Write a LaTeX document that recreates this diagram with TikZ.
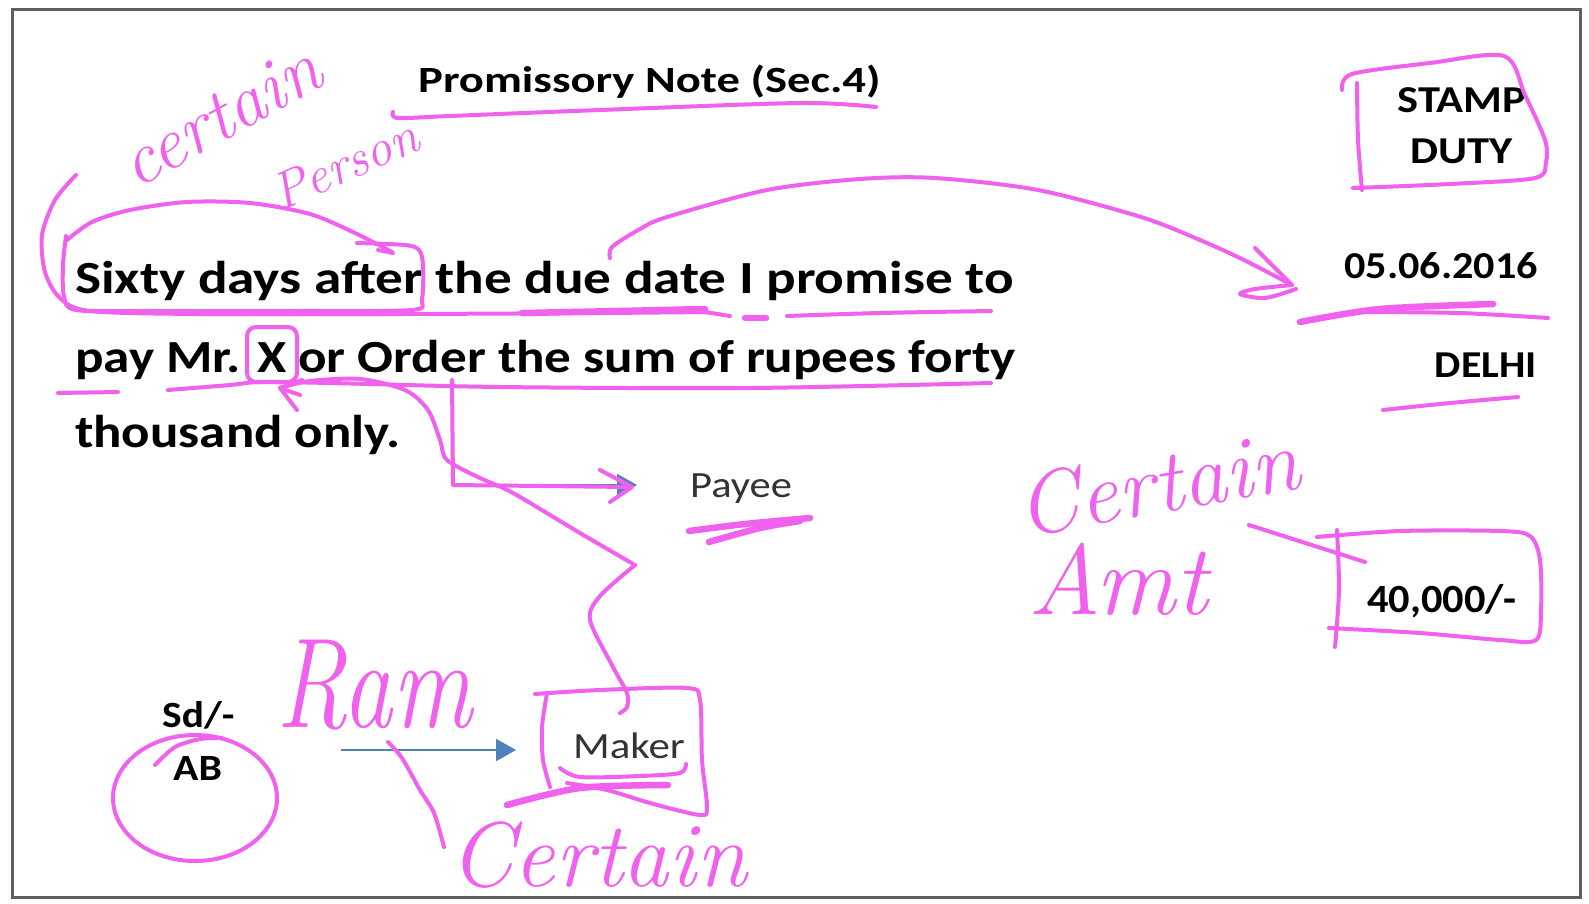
\documentclass[tikz,border=0pt]{standalone}
\usepackage{fontspec}
\setmainfont{Carlito}
\newfontfamily\handfont{Latin Modern Roman}
\usetikzlibrary{arrows.meta}
\definecolor{ink}{RGB}{240,98,238}
\definecolor{flow}{RGB}{79,129,189}
\definecolor{framegray}{RGB}{95,95,95}
% widen a piece of text without changing its height
\newcommand{\hwide}[2]{\scalebox{#1}[1]{#2}}
\begin{document}
\begin{tikzpicture}[x=1pt,y=-1pt,
  doctext/.style={inner sep=0pt, font=\bfseries\fontsize{#1}{#1}\selectfont},
  labeltext/.style={inner sep=0pt, text=black!80, font=\fontsize{#1}{#1}\selectfont},
  handtext/.style={inner sep=0pt, text=ink, font=\handfont\itshape\fontsize{#1}{#1}\selectfont},
  pen/.style={draw=ink, line width=4pt, line cap=round, line join=round},
  heavypen/.style={pen, line width=6.5pt},
  flowarrow/.style={draw=flow, line width=2.2pt, -{Triangle[length=20pt,width=22pt]}}]

\useasboundingbox (0,0) rectangle (1589,903);
\fill[white] (0,0) rectangle (1589,903);
\draw[draw=framegray, line width=3pt] (12,9) rectangle (1580,897);

% typed note
\node[doctext=37, anchor=base west] (title) at (418,92) {\hwide{1.26}{Promissory Note (Sec.4)}};
\node[doctext=46, anchor=base west] (l1) at (75,293) {\hwide{1.2}{Sixty days after the due date I promise to}};
\node[doctext=46, anchor=base west] (l2) at (75,372) {\hwide{1.155}{pay Mr. X or Order the sum of rupees forty}};
\node[doctext=46, anchor=base west] (l3) at (75,447) {\hwide{1.15}{thousand only.}};
\node[doctext=38, anchor=base] (stamp) at (1462,112) {\hwide{1.17}{STAMP}};
\node[doctext=38, anchor=base] (duty) at (1462,163) {\hwide{1.17}{DUTY}};
\node[doctext=38, anchor=base east] (date) at (1538,278) {\hwide{1.11}{05.06.2016}};
\node[doctext=38, anchor=base east] (place) at (1537,377) {\hwide{1.1}{DELHI}};
\node[doctext=40, anchor=base west] (amount) at (1367,612) {\hwide{1.06}{40,000/-}};
\node[doctext=37, anchor=base west] (sd) at (162,727) {\hwide{1.12}{Sd/-}};
\node[doctext=37, anchor=base west] (ab) at (173,780) {\hwide{1.13}{AB}};
\node[labeltext=37, anchor=base west] (payee) at (690,497) {\hwide{1.15}{Payee}};
\node[labeltext=37, anchor=base west] (maker) at (573,758) {\hwide{1.16}{Maker}};

% connectors
\coordinate (xfoot) at (452,380);
\coordinate (payeetip) at (637,485);
\draw[flowarrow] (xfoot) |- (payeetip);
\coordinate (signtail) at (341,750);
\coordinate (makertip) at (516,750);
\draw[flowarrow] (signtail) -- (makertip);

% pen marks: title underline
\draw[pen] plot[smooth] coordinates {(393,112)(398,118)(450,116)(600,110)(800,103)(876,107)};

% bracket and underline of the first line
\draw[pen] plot[smooth] coordinates {(76,175)(55,200)(42,235)(45,272)(60,298)(90,311)(200,314)(400,314)(600,313)(707,312)};
\draw[heavypen] plot[smooth] coordinates {(522,313)(620,311)(705,309)};
\draw[pen] (705,312) -- (730,316);
\draw[heavypen] (745,318) -- (766,318);
\draw[pen] plot[smooth] coordinates {(787,316)(880,313)(991,311)};

% box and arc over "Sixty days after"
\draw[pen] plot[smooth] coordinates {(66,236)(63,265)(64,296)(76,310)(150,311)(300,311)(412,310)(422,299)(423,265)(419,250)(405,245)(357,243)};
\draw[pen] plot[smooth] coordinates {(67,240)(92,222)(130,210)(187,202)(250,203)(310,214)(355,233)(392,252)};
\draw[pen] (378,250) -- (393,253);

% arrow from the due date to the date
\draw[pen] plot[smooth] coordinates {(610,258)(612,247)(640,229)(667,217)(767,190)(860,179)(935,178)(1038,190)(1141,217)(1200,240)(1244,260)(1292,285)};
\draw[pen] (1255,248) -- (1292,285);
\draw[pen] plot[smooth] coordinates {(1292,285)(1255,289)(1240,294)(1265,298)(1296,289)};

% date and place underlines
\draw[heavypen] plot[smooth] coordinates {(1300,322)(1380,309)(1493,304)};
\draw[pen] plot[smooth] coordinates {(1360,312)(1460,313)(1548,318)};
\draw[pen] plot[smooth] coordinates {(1383,410)(1450,403)(1518,397)};

% stamp box
\draw[pen] plot[smooth] coordinates {(1342,90)(1352,74)(1430,63)(1504,56)(1525,95)(1545,140)(1546,162)(1535,178)(1450,184)(1353,188)};
\draw[pen] plot[smooth] coordinates {(1357,83)(1358,140)(1362,190)};

% box round X and second line underline
\draw[pen, rounded corners=9pt] (247,327) rectangle (297,382);
\draw[pen] (58,393) -- (118,392);
\draw[pen] plot[smooth] coordinates {(168,390)(230,385)(260,382)(330,383)(500,387)(750,388)(991,383)};

% pointer from X down to the maker
\draw[pen] (302,380) -- (280,388) -- (300,395);
\draw[pen] (280,388) -- (297,410);
\draw[pen] plot[smooth] coordinates {(280,388)(310,381)(360,379)(405,390)(428,410)(440,440)(447,460)(480,478)(513,493)(580,533)(635,565)};
\draw[pen] plot[smooth] coordinates {(635,565)(600,596)(590,620)(613,667)(627,693)(627,707)(620,713)};

% trace over the payee connector
\draw[pen] (452,380) -- (453,485) -- (630,487);
\draw[pen] (600,470) -- (632,487) -- (610,502);

% payee underline
\draw[heavypen] plot[smooth] coordinates {(689,531)(745,524)(810,518)};
\draw[heavypen] plot[smooth] coordinates {(709,542)(760,528)(800,521)};

% maker box
\draw[pen] plot[smooth] coordinates {(535,694)(600,690)(687,688)(700,700)(702,760)(707,807)(700,815)(650,803)(607,790)(567,783)};
\draw[pen] plot[smooth] coordinates {(547,693)(542,727)(543,760)(550,787)};
\draw[pen] plot[smooth] coordinates {(560,768)(580,777)(640,776)(680,773)(686,764)};
\draw[heavypen] plot[smooth] coordinates {(507,805)(580,788)(668,785)};

% circle round the signature
\draw[pen] (195,798) ellipse [x radius=82, y radius=63];
\draw[pen] plot[smooth] coordinates {(155,765)(175,747)(200,739)(222,738)};

% brace from the name down
\draw[pen] plot[smooth] coordinates {(388,742)(402,758)(420,790)(434,813)(444,847)};

% amount box
\draw[pen] plot[smooth] coordinates {(1317,537)(1400,531)(1500,531)(1530,536)(1540,560)(1541,610)(1536,640)(1500,640)(1420,633)(1329,628)};
\draw[pen] plot[smooth] coordinates {(1337,530)(1339,590)(1335,647)};
\draw[pen] (1249,525) -- (1365,562);

% handwritten words
\node[handtext=74, rotate=29] (hcertain) at (220,116) {certain};
\node[handtext=52, rotate=24] (hperson) at (345,164) {Person};
\node[handtext=128, anchor=base west] (hram) at (276,727) {\hwide{0.78}{Ram}};
\node[handtext=88, rotate=10] (hcertainamt) at (1158,483) {Certain};
\node[handtext=100, anchor=base west] (hamt) at (1028,614) {Amt};
\node[handtext=92, anchor=base west] (hcertainmaker) at (449,886) {Certain};
\end{tikzpicture}
\end{document}
